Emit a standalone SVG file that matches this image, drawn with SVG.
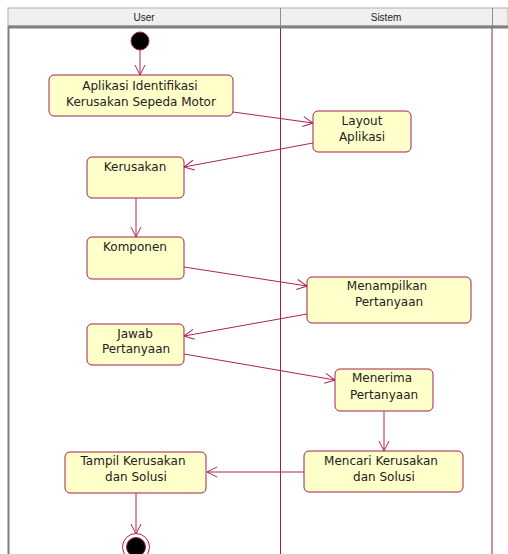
<svg xmlns="http://www.w3.org/2000/svg" width="508" height="554" viewBox="0 0 508 554">
<style>
.node rect{fill:#ffffca;stroke:#a3204e;stroke-width:1}
.node text{font-family:"DejaVu Sans","Liberation Sans",Arial,sans-serif;font-size:12px;fill:#222;text-anchor:middle}
.hdr{font-family:"Liberation Sans",Arial,sans-serif;font-size:10px;fill:#222;text-anchor:middle}
.edge{stroke:#a8245a;stroke-width:1;fill:none;marker-end:url(#arr)}
</style>
<defs>
<marker id="arr" markerUnits="userSpaceOnUse" markerWidth="14" markerHeight="14" refX="11" refY="6" orient="auto">
<path d="M1,1 L11,6 L1,11" fill="none" stroke="#a8245a" stroke-width="1"/>
</marker>
</defs>
<rect x="0" y="0" width="508" height="554" fill="#ffffff"/>
<g id="swimlanes">
<rect x="8" y="8" width="500" height="18" fill="#f0f0f0" stroke="#b0b0b0" stroke-width="1"/>
<line x1="280.5" y1="8" x2="280.5" y2="26" stroke="#909090"/>
<line x1="492.5" y1="8" x2="492.5" y2="26" stroke="#909090"/>
<line x1="8" y1="27" x2="508" y2="27" stroke="#808080" stroke-width="3"/>
<line x1="8.5" y1="26" x2="8.5" y2="554" stroke="#808080" stroke-width="2"/>
<line x1="280.5" y1="28" x2="280.5" y2="554" stroke="#a3204e"/>
<line x1="492" y1="28" x2="492" y2="554" stroke="#a3204e"/>
<text class="hdr" x="144" y="20.5">User</text>
<text class="hdr" x="386" y="20.5">Sistem</text>
</g>
<g id="connectors">
<line class="edge" x1="140" y1="50" x2="140" y2="75"/>
<line class="edge" x1="233" y1="112" x2="313" y2="123"/>
<line class="edge" x1="313" y1="143" x2="184" y2="167"/>
<line class="edge" x1="136" y1="198" x2="136" y2="237"/>
<line class="edge" x1="184" y1="267" x2="307" y2="286"/>
<line class="edge" x1="307" y1="314" x2="184" y2="336"/>
<line class="edge" x1="184" y1="354" x2="335" y2="380"/>
<line class="edge" x1="384" y1="411" x2="384" y2="451"/>
<line class="edge" x1="304" y1="472" x2="207" y2="472"/>
<line class="edge" x1="136" y1="493" x2="136" y2="534"/>
</g>
<g id="start">
<circle cx="140" cy="41" r="9" fill="#000" stroke="#a3204e"/>
</g>
<g id="n1" class="node">
<rect x="49" y="75" width="184" height="41" rx="5"/>
<text x="140" y="90">Aplikasi Identifikasi</text>
<text x="141" y="106">Kerusakan Sepeda Motor</text>
</g>
<g id="n2" class="node">
<rect x="313" y="111" width="98" height="41" rx="5"/>
<text x="362" y="125">Layout</text>
<text x="362" y="141">Aplikasi</text>
</g>
<g id="n3" class="node">
<rect x="87" y="157" width="97" height="41" rx="5"/>
<text x="135" y="171">Kerusakan</text>
</g>
<g id="n4" class="node">
<rect x="87" y="237" width="97" height="42" rx="5"/>
<text x="135" y="251">Komponen</text>
</g>
<g id="n5" class="node">
<rect x="307" y="277" width="164" height="46" rx="5"/>
<text x="387" y="290">Menampilkan</text>
<text x="389" y="306">Pertanyaan</text>
</g>
<g id="n6" class="node">
<rect x="87" y="324" width="97" height="41" rx="5"/>
<text x="135" y="338">Jawab</text>
<text x="136" y="353">Pertanyaan</text>
</g>
<g id="n7" class="node">
<rect x="335" y="369" width="98" height="42" rx="5"/>
<text x="382" y="382">Menerima</text>
<text x="384" y="399">Pertanyaan</text>
</g>
<g id="n8" class="node">
<rect x="304" y="451" width="159" height="41" rx="5"/>
<text x="381" y="465">Mencari Kerusakan</text>
<text x="384" y="481">dan Solusi</text>
</g>
<g id="n9" class="node">
<rect x="65" y="452" width="141" height="41" rx="5"/>
<text x="133" y="465">Tampil Kerusakan</text>
<text x="136" y="481">dan Solusi</text>
</g>
<g id="end">
<circle cx="136" cy="547" r="13.5" fill="#fff" stroke="#a3204e"/>
<circle cx="136" cy="547" r="9.5" fill="#000" stroke="#a3204e"/>
</g>
</svg>
